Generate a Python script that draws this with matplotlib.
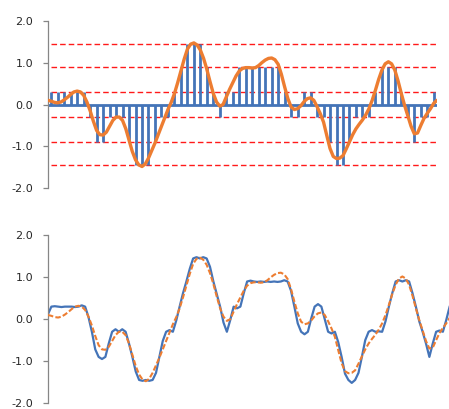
import matplotlib
matplotlib.use("Agg")
import matplotlib.pyplot as plt
import numpy as np

plt.rcParams['font.family'] = ['DejaVu Sans']
plt.rcParams['axes.unicode_minus'] = False

# sample index of each quantised value, and the finer grid of the curves
t_samples = np.arange(60)
t_fine = np.arange(-0.5, 60, 0.5)

# quantiser output levels
levels = [1.45, 0.9, 0.3, -0.3, -0.9, -1.45]

# quantised samples
quantized = [
    0.3, 0.3, 0.3, 0.3, 0.3, 0.3, -0.3, -0.9, -0.9, -0.3,
    -0.3, -0.3, -0.9, -1.45, -1.45, -1.45, -0.9, -0.3, -0.3, 0.3,
    0.9, 1.45, 1.45, 1.45, 0.9, 0.3, -0.3, 0.3, 0.3, 0.9,
    0.9, 0.9, 0.9, 0.9, 0.9, 0.9, 0.3, -0.3, -0.3, 0.3,
    0.3, -0.3, -0.3, -0.9, -1.45, -1.45, -0.9, -0.3, -0.3, -0.3,
    0.3, 0.9, 0.9, 0.9, 0.3, -0.3, -0.9, -0.3, -0.3, 0.3,
]

# original signal
original = [
    0.10,
    0.08, 0.05, 0.04, 0.06, 0.11, 0.17, 0.24, 0.30, 0.32, 0.30,
    0.22, 0.06, -0.15, -0.40, -0.62, -0.72, -0.73, -0.66, -0.52, -0.38,
    -0.30, -0.30, -0.38, -0.58, -0.85, -1.12, -1.32, -1.44, -1.48, -1.42,
    -1.28, -1.10, -0.92, -0.72, -0.52, -0.32, -0.12, 0.05, 0.26, 0.52,
    0.80, 1.08, 1.32, 1.44, 1.47, 1.42, 1.30, 1.10, 0.84, 0.54,
    0.26, 0.06, -0.04, 0.00, 0.18, 0.36, 0.52, 0.68, 0.80, 0.86,
    0.88, 0.88, 0.87, 0.88, 0.93, 1.00, 1.06, 1.10, 1.11, 1.07,
    0.96, 0.72, 0.42, 0.14, -0.06, -0.12, -0.10, -0.03, 0.07, 0.14,
    0.16, 0.10, -0.05, -0.22, -0.42, -0.74, -1.05, -1.24, -1.29, -1.28,
    -1.22, -1.06, -0.89, -0.72, -0.58, -0.47, -0.37, -0.25, -0.10, 0.10,
    0.34, 0.60, 0.82, 0.97, 1.02, 0.97, 0.82, 0.56, 0.26, -0.02,
    -0.27, -0.52, -0.70, -0.68, -0.50, -0.33, -0.21, -0.10, 0.03, 0.10,
]

# signal rebuilt from the quantised samples
reconstructed = [
    0.12,
    0.30, 0.31, 0.30, 0.29, 0.30, 0.30, 0.30, 0.29, 0.30, 0.33,
    0.30, 0.05, -0.30, -0.72, -0.90, -0.95, -0.90, -0.58, -0.30, -0.24,
    -0.30, -0.24, -0.30, -0.58, -0.90, -1.25, -1.45, -1.47, -1.45, -1.47,
    -1.45, -1.28, -0.90, -0.52, -0.30, -0.26, -0.30, -0.03, 0.30, 0.62,
    0.90, 1.20, 1.45, 1.48, 1.45, 1.48, 1.45, 1.25, 0.90, 0.60,
    0.30, -0.08, -0.30, -0.02, 0.30, 0.26, 0.30, 0.62, 0.90, 0.92,
    0.90, 0.89, 0.90, 0.89, 0.90, 0.89, 0.90, 0.89, 0.90, 0.93,
    0.90, 0.68, 0.30, -0.10, -0.30, -0.36, -0.30, 0.02, 0.30, 0.36,
    0.30, 0.00, -0.30, -0.34, -0.30, -0.55, -0.90, -1.30, -1.45, -1.52,
    -1.45, -1.28, -0.90, -0.50, -0.30, -0.26, -0.30, -0.29, -0.30, -0.05,
    0.30, 0.62, 0.90, 0.93, 0.90, 0.93, 0.90, 0.62, 0.30, -0.05,
    -0.30, -0.58, -0.90, -0.58, -0.30, -0.27, -0.30, -0.02, 0.30, 0.50,
]

blue = '#4474B8'
orange = '#ED7D31'
grey = '#868686'

W, H = 449, 409
fig = plt.figure(figsize=(W / 100, H / 100), dpi=100)
ax1 = fig.add_axes([48 / W, 1 - 188.3 / H, 389 / W, 167.6 / H])
ax2 = fig.add_axes([48 / W, 1 - 403 / H, 405 / W, 167.6 / H])

for ax in (ax1, ax2):
    ax.set_xlim(-0.5, 59.5)
    ax.set_ylim(-2, 2)
    ax.set_yticks([-2, -1, 0, 1, 2])
    ax.set_yticklabels([f'{v:.1f}' for v in [-2, -1, 0, 1, 2]])
    ax.set_xticks([])
    for side in ('top', 'right', 'bottom'):
        ax.spines[side].set_visible(False)
    ax.spines['left'].set_color(grey)
    ax.spines['left'].set_linewidth(0.9)
    ax.tick_params(axis='y', length=3.6, width=0.9, color=grey, pad=7,
                   labelsize=8, labelcolor='#262626')
    ax.patch.set_alpha(0)

# top: sampled/quantised signal
ax1.hlines(levels, -0.1, 59.5, colors='#FF1A1A', lw=1.0,
           linestyles=(0, (4, 2.2)), zorder=1)
ax1.axhline(0, color=blue, lw=2.0, zorder=2)
ax1.vlines(t_samples, 0, quantized, colors=blue, lw=2.0, zorder=2)
ax1.plot(t_fine, original, color=orange, lw=2.4, zorder=3,
         solid_capstyle='round', solid_joinstyle='round')

# bottom: reconstruction against the original
ax2.plot(t_fine, reconstructed, color=blue, lw=1.6, zorder=2,
         solid_joinstyle='round')
ax2.plot(t_fine, original, color=orange, lw=1.5, zorder=3,
         linestyle=(0, (2.6, 1.1)))

fig.savefig('out.png', dpi=100)
